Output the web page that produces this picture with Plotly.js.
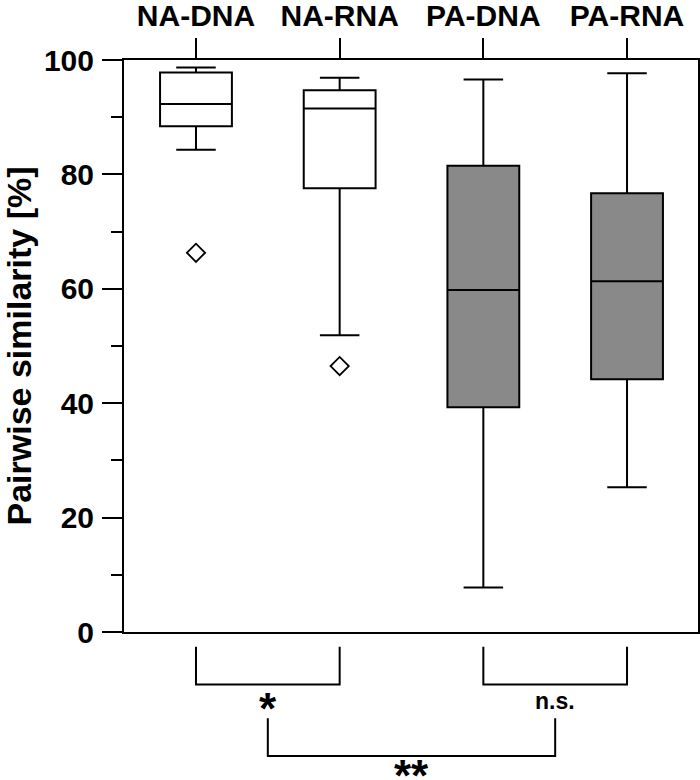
<!DOCTYPE html>
<html>
<head>
<meta charset="utf-8">
<script src="https://cdn.plot.ly/plotly-3.0.1.min.js"></script>
<style>html,body{margin:0;padding:0;background:#fff;}#chart{width:700px;height:780px;}</style>
</head>
<body>
<div id="chart"></div>
<script>
// ---- data ----
const categories = ['NA-DNA', 'NA-RNA', 'PA-DNA', 'PA-RNA'];
const q1         = [88.4, 77.6, 39.3, 44.2];
const median     = [92.3, 91.5, 59.8, 61.3];
const q3         = [97.8, 94.7, 81.5, 76.7];
const lowerfence = [84.3, 51.9, 7.8, 25.3];
const upperfence = [98.7, 96.9, 96.6, 97.7];
const outlierCat = ['NA-DNA', 'NA-RNA'];
const outlierVal = [66.3, 46.5];
const comparisons = [['NA-DNA', 'NA-RNA'], ['PA-DNA', 'PA-RNA']];
const compLabels  = ['*', 'n.s.'];
const overallLabel = '**';
const yTicks = [0, 20, 40, 60, 80, 100];

// ---- build ----
const pos = c => categories.indexOf(c);
const FONT = 'Liberation Sans, Arial, Helvetica, sans-serif';

function boxTrace(idx, fill) {
  return {
    type: 'box',
    x: idx,
    q1: idx.map(i => q1[i]),
    median: idx.map(i => median[i]),
    q3: idx.map(i => q3[i]),
    lowerfence: idx.map(i => lowerfence[i]),
    upperfence: idx.map(i => upperfence[i]),
    boxpoints: false,
    width: 0.5,
    whiskerwidth: 0.55,
    fillcolor: fill,
    line: {color: '#000', width: 2},
    showlegend: false,
    hoverinfo: 'skip'
  };
}

const traces = [
  boxTrace([0, 1], '#ffffff'),
  boxTrace([2, 3], '#898989'),
  {
    type: 'scatter', mode: 'markers',
    x: outlierCat.map(pos), y: outlierVal,
    marker: {symbol: 'diamond-open', size: 14, color: '#000', line: {width: 1.8, color: '#000'}},
    showlegend: false, hoverinfo: 'skip', cliponaxis: false
  }
];

// brackets below the axis
const yTop1 = -0.026, yBot1 = -0.092;
const yTop2 = -0.151, yBot2 = -0.217;
const starSize = 44;
const shapes = [];
const annotations = [];
const mids = [];
comparisons.forEach((pair, k) => {
  const a = pos(pair[0]), b = pos(pair[1]);
  shapes.push({type: 'path', xref: 'x', yref: 'paper',
    path: `M ${a},${yTop1} L ${a},${yBot1} L ${b},${yBot1} L ${b},${yTop1}`,
    line: {color: '#000', width: 2}});
  const m = (a + b) / 2;
  mids.push(m);
  const isStar = compLabels[k].indexOf('*') >= 0;
  annotations.push({xref: 'x', yref: 'paper', x: m, y: isStar ? -0.134 : -0.121, text: compLabels[k],
    showarrow: false, xanchor: 'center', yanchor: 'middle',
    font: {family: FONT, size: isStar ? starSize : 23, weight: 'bold', color: '#000'}});
});
shapes.push({type: 'path', xref: 'x', yref: 'paper',
  path: `M ${mids[0]},${yTop2} L ${mids[0]},${yBot2} L ${mids[1]},${yBot2} L ${mids[1]},${yTop2}`,
  line: {color: '#000', width: 2}});
annotations.push({xref: 'x', yref: 'paper', x: (mids[0] + mids[1]) / 2, y: -0.25, text: overallLabel,
  showarrow: false, xanchor: 'center', yanchor: 'middle',
  font: {family: FONT, size: starSize, weight: 'bold', color: '#000'}});

const layout = {
  width: 700, height: 780,
  margin: {l: 124, r: 2, t: 60, b: 148, pad: 0},
  paper_bgcolor: '#fff', plot_bgcolor: '#fff',
  font: {family: FONT, color: '#000'},
  xaxis: {
    side: 'top', range: [-0.501, 3.494],
    tickmode: 'array', tickvals: categories.map(pos), ticktext: categories,
    ticks: 'outside', ticklen: 20, tickwidth: 2, tickcolor: '#000',
    tickfont: {family: FONT, size: 30, weight: 'bold', color: '#000'},
    showline: true, linecolor: '#000', linewidth: 2, mirror: true,
    showgrid: false, zeroline: false, fixedrange: true
  },
  yaxis: {
    range: [0, 100], tickmode: 'array', tickvals: yTicks, ticktext: yTicks.map(String),
    ticks: 'outside', ticklen: 20, tickwidth: 2, tickcolor: '#000', ticklabelstandoff: 2,
    minor: {dtick: 10, tick0: 0, ticks: 'outside', ticklen: 11, tickwidth: 2, tickcolor: '#000', showgrid: false},
    tickfont: {family: FONT, size: 30, weight: 'bold', color: '#000'},
    title: {text: 'Pairwise similarity [%]', standoff: 6,
      font: {family: FONT, size: 34, weight: 'bold', color: '#000'}},
    showline: true, linecolor: '#000', linewidth: 2, mirror: true,
    showgrid: false, zeroline: false, fixedrange: true, automargin: false
  },
  shapes: shapes,
  annotations: annotations
};

Plotly.newPlot('chart', traces, layout, {displayModeBar: false, staticPlot: true});
</script>
</body>
</html>
